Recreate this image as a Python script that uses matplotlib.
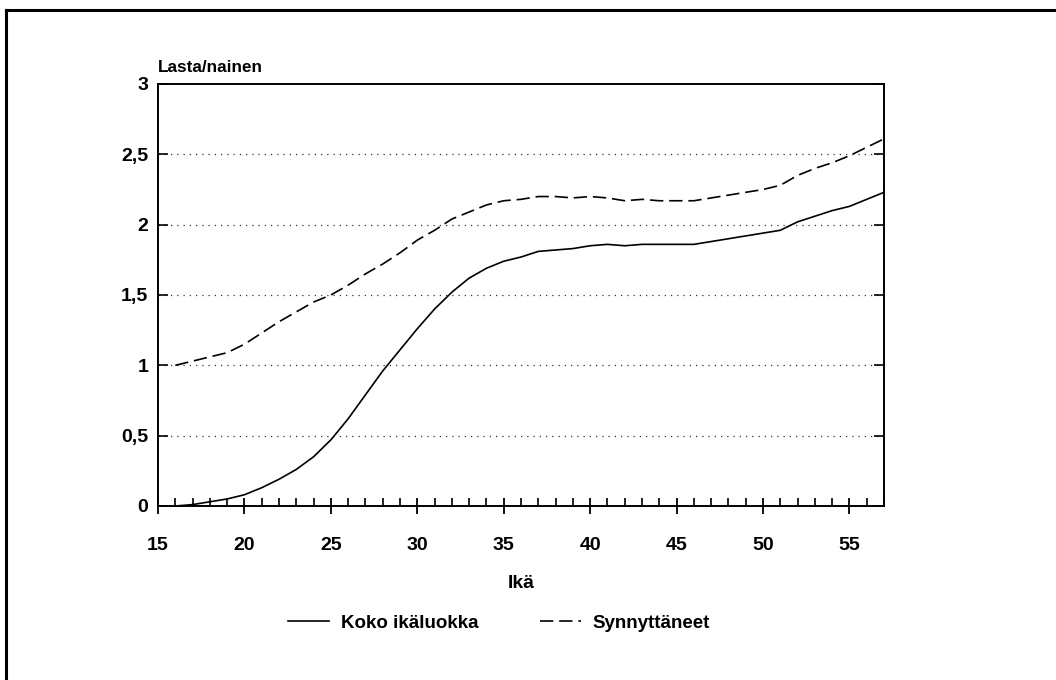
import matplotlib
matplotlib.use("Agg")
import matplotlib.pyplot as plt
from matplotlib.lines import Line2D
from matplotlib.ticker import MultipleLocator, FixedLocator

plt.rcParams['font.family'] = ['Liberation Sans', 'DejaVu Sans']

ages = list(range(16, 58))
koko = [0.00, 0.01, 0.03, 0.05, 0.08, 0.13, 0.19, 0.26, 0.35, 0.47,
        0.62, 0.79, 0.96, 1.11, 1.26, 1.40, 1.52, 1.62, 1.69, 1.74,
        1.77, 1.81, 1.82, 1.83, 1.85, 1.86, 1.85, 1.86, 1.86, 1.86,
        1.86, 1.88, 1.90, 1.92, 1.94, 1.96, 2.02, 2.06, 2.10, 2.13,
        2.18, 2.23]
synn = [1.00, 1.03, 1.06, 1.09, 1.15, 1.23, 1.31, 1.38, 1.45, 1.50,
        1.57, 1.65, 1.72, 1.80, 1.89, 1.96, 2.04, 2.09, 2.14, 2.17,
        2.18, 2.20, 2.20, 2.19, 2.20, 2.19, 2.17, 2.18, 2.17, 2.17,
        2.17, 2.19, 2.21, 2.23, 2.25, 2.28, 2.35, 2.40, 2.44, 2.49,
        2.55, 2.61]
series_labels = ["Koko ikäluokka", "Synnyttäneet"]
x_ticks = [15, 20, 25, 30, 35, 40, 45, 50, 55]
y_ticks = [0, 0.5, 1, 1.5, 2, 2.5, 3]
y_tick_labels = ["0", "0,5", "1", "1,5", "2", "2,5", "3"]

fig = plt.figure(figsize=(10.56, 6.8), dpi=100)
W, H = 1056, 680
ax = fig.add_axes([158 / W, 1 - 506 / H, (884 - 158) / W, (506 - 84) / H])

ax.plot(ages, koko, color='black', lw=1.2, label=series_labels[0])
ax.plot(ages, synn, color='black', lw=1.2, dashes=(8, 3.5), label=series_labels[1])

for yv in [0.5, 1, 1.5, 2, 2.5]:
    ax.axhline(yv, color='black', lw=0.9, linestyle=(0, (1, 4)), alpha=0.8, zorder=0)

ax.set_xlim(15, 57)
ax.set_ylim(0, 3)
ax.xaxis.set_major_locator(FixedLocator(x_ticks))
ax.xaxis.set_minor_locator(MultipleLocator(1))
ax.yaxis.set_major_locator(FixedLocator(y_ticks))
ax.set_yticklabels(y_tick_labels)

for s in ax.spines.values():
    s.set_linewidth(1.4)

ax.tick_params(axis='x', which='major', direction='inout', length=12, width=1.3,
               labelsize=14, pad=16)
ax.tick_params(axis='x', which='minor', direction='in', length=6, width=1.2)
ax.tick_params(axis='y', which='major', direction='in', length=7, width=1.2,
               right=True, labelsize=14, pad=7)
for lbl in ax.get_xticklabels() + ax.get_yticklabels():
    lbl.set_fontweight('bold')

fig.text(158 / W, 1 - 67 / H, "Lasta/nainen", fontsize=12.3, fontweight='bold',
         ha='left', va='center')
fig.text(521 / W, 1 - 583 / H, "Ikä", fontsize=14, fontweight='bold',
         ha='center', va='center')

handles = [Line2D([], [], color='black', lw=1.2),
           Line2D([], [], color='black', lw=1.2, dashes=(8, 3.5))]
fig.legend(handles, series_labels, loc='center', bbox_to_anchor=(499 / W, 1 - 623 / H),
           ncol=2, frameon=False, handlelength=2.2, columnspacing=3.3,
           handletextpad=0.6, prop={'weight': 'bold', 'size': 13.5})

# outer frame (top and left edges)
fig.add_artist(Line2D([6 / W, 1.0], [1 - 10 / H, 1 - 10 / H], color='black', lw=2.2,
                      transform=fig.transFigure))
fig.add_artist(Line2D([6 / W, 6 / W], [0, 1 - 10 / H], color='black', lw=2.2,
                      transform=fig.transFigure))

fig.savefig("out.png", dpi=100)
